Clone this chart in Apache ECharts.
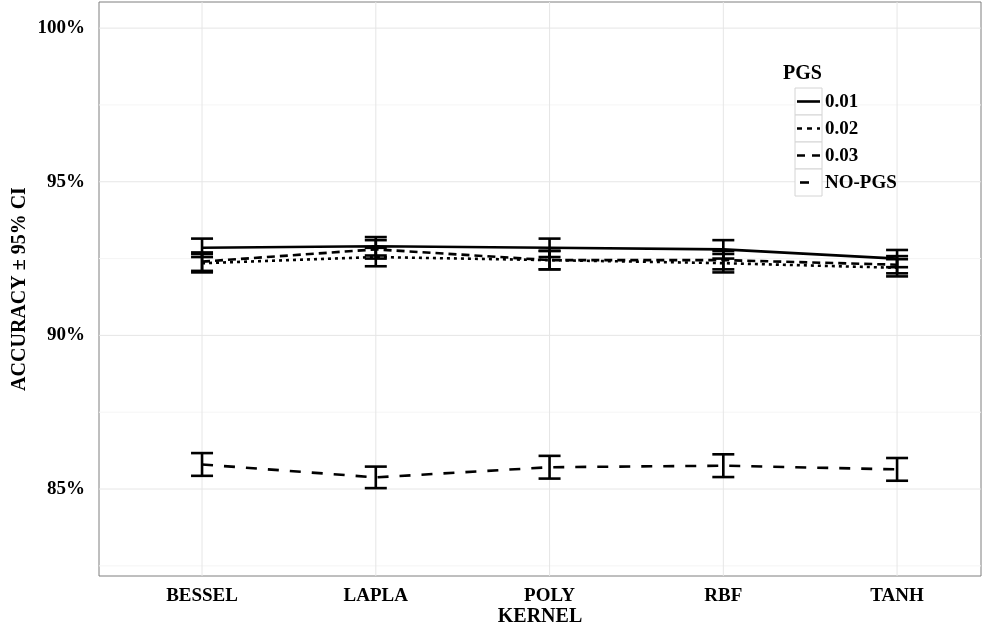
<!DOCTYPE html>
<html><head><meta charset="utf-8">
<script src="https://cdn.jsdelivr.net/npm/echarts@6/dist/echarts.min.js"></script>
<style>html,body{margin:0;padding:0;background:#fff}#c{width:992px;height:626px}</style>
</head><body><div id="c"></div>
<script>
const categories = ['BESSEL','LAPLA','POLY','RBF','TANH'];
const groups = ['0.01','0.02','0.03','NO-PGS'];
const mean001 = [92.85, 92.90, 92.85, 92.80, 92.50];
const ci001   = [0.30, 0.30, 0.30, 0.30, 0.28];
const mean002 = [92.35, 92.55, 92.45, 92.35, 92.20];
const ci002   = [0.30, 0.30, 0.30, 0.30, 0.28];
const mean003 = [92.40, 92.80, 92.45, 92.45, 92.30];
const ci003   = [0.30, 0.30, 0.30, 0.30, 0.28];
const meanNo  = [85.80, 85.38, 85.71, 85.76, 85.64];
const ciNo    = [0.37, 0.35, 0.37, 0.37, 0.37];
const yMajor = [85, 90, 95, 100];
const yMinor = [82.5, 87.5, 92.5, 97.5];

const means = [mean001, mean002, mean003, meanNo];
const cis = [ci001, ci002, ci003, ciNo];
const dashes = ['solid', [3,4], [8,5], [11,11]];
const keyDashes = [null, [5,5], [8,7], null];
const FONT = 'Liberation Serif';

const chart = echarts.init(document.getElementById('c'), null, {renderer:'canvas'});

function gridRender(kind, color){
  return function(params, api){
    const cs = params.coordSys;
    const v = api.value(0);
    if (kind === 'h'){
      const p = api.coord([0, v]);
      return {type:'line', shape:{x1:cs.x, y1:p[1], x2:cs.x+cs.width, y2:p[1]}, style:{stroke:color, lineWidth:1}, silent:true};
    } else {
      const p = api.coord([v, 90]);
      return {type:'line', shape:{x1:p[0], y1:cs.y, x2:p[0], y2:cs.y+cs.height}, style:{stroke:color, lineWidth:1}, silent:true};
    }
  };
}

function errRender(params, api){
  const x = api.value(0), lo = api.value(1), hi = api.value(2);
  const a = api.coord([x, lo]), b = api.coord([x, hi]);
  const hw = 11;
  const st = {stroke:'#000', lineWidth:2.6};
  return {type:'group', children:[
    {type:'line', shape:{x1:a[0], y1:a[1], x2:b[0], y2:b[1]}, style:st},
    {type:'line', shape:{x1:a[0]-hw, y1:a[1], x2:a[0]+hw, y2:a[1]}, style:st},
    {type:'line', shape:{x1:b[0]-hw, y1:b[1], x2:b[0]+hw, y2:b[1]}, style:st}
  ]};
}

const series = [
  {type:'custom', name:'_hmin', renderItem:gridRender('h','#f5f5f5'), data:yMinor.map(v=>[v]), encode:{x:-1,y:0}, z:0, silent:true},
  {type:'custom', name:'_hmaj', renderItem:gridRender('h','#e6e6e6'), data:yMajor.map(v=>[v]), encode:{x:-1,y:0}, z:0, silent:true},
  {type:'custom', name:'_vmaj', renderItem:gridRender('v','#e6e6e6'), data:categories.map((c,i)=>[i]), encode:{x:0,y:-1}, z:0, silent:true}
];
groups.forEach((g, k) => {
  series.push({
    type:'custom', name:g+'_err', renderItem:errRender,
    data: means[k].map((m,i)=>[i, m-cis[k][i], m+cis[k][i]]),
    encode:{x:0, y:[1,2]}, z:3, silent:true
  });
  series.push({
    type:'line', name:g, data: means[k].map((m,i)=>[i,m]),
    symbol:'none', lineStyle:{color:'#000', width:2.6, type:dashes[k]},
    itemStyle:{color:'#000'}, z:4, silent:true
  });
});

// manual legend (ggplot style keys)
const LX = 795, LY = 88, KW = 27, KH = 27;
const legendEls = [
  {type:'text', x:LX-12, y:LY-14, style:{text:'PGS', font:'bold 20px "Liberation Serif"', fill:'#000', verticalAlign:'middle'}, z:10}
];
groups.forEach((g, k) => {
  const y0 = LY + k*KH;
  legendEls.push({type:'rect', shape:{x:LX, y:y0, width:KW, height:KH}, style:{fill:'#fff', stroke:'#d4d4d4', lineWidth:1}, z:10});
  const cy = y0 + KH/2;
  let x1 = LX+2, x2 = LX+KW-2;
  if (k === 3){ x1 = LX+5; x2 = LX+14; }
  const st = {stroke:'#000', lineWidth:2.6};
  if (keyDashes[k]) st.lineDash = keyDashes[k];
  legendEls.push({type:'line', shape:{x1:x1, y1:cy, x2:x2, y2:cy}, style:st, z:11});
  legendEls.push({type:'text', x:LX+KW+3, y:cy+1, style:{text:g, font:'bold 19px "Liberation Serif"', fill:'#000', verticalAlign:'middle'}, z:11});
});

chart.setOption({
  animation:false,
  backgroundColor:'#fff',
  grid:{left:99, right:11, top:2, bottom:50, containLabel:false, outerBoundsMode:'none', show:true, borderColor:'#7f7f7f', borderWidth:1, backgroundColor:'#fff'},
  xAxis:{type:'value', min:-0.593, max:4.483,
    name:'KERNEL', nameLocation:'middle', nameGap:31, nameMoveOverlap:false,
    nameTextStyle:{fontFamily:FONT, fontWeight:'bold', fontSize:20, color:'#000'},
    axisLine:{show:false}, axisTick:{show:false}, splitLine:{show:false},
    axisLabel:{customValues:[0,1,2,3,4], formatter:v=>categories[Math.round(v)], fontFamily:FONT, fontWeight:'bold', fontSize:19, color:'#000', margin:11}
  },
  yAxis:{type:'value', min:82.17, max:100.85,
    name:'ACCURACY \u00b1 95% CI', nameLocation:'middle', nameGap:69, nameRotate:90, nameMoveOverlap:false,
    nameTextStyle:{fontFamily:FONT, fontWeight:'bold', fontSize:20, color:'#000'},
    axisLine:{show:false}, axisTick:{show:false}, splitLine:{show:false},
    axisLabel:{customValues:yMajor, formatter:v=>v+'%', fontFamily:FONT, fontWeight:'bold', fontSize:19, color:'#000', margin:14}
  },
  graphic:legendEls,
  series:series
});
</script></body></html>
